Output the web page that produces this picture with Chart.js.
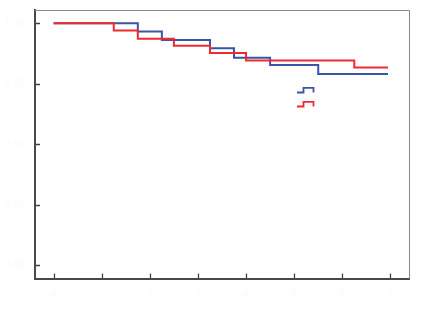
<!DOCTYPE html>
<html>
<head>
<meta charset="utf-8">
<script src="https://cdn.jsdelivr.net/npm/chart.js@4/dist/chart.umd.min.js"></script>
<style>
  html, body { margin: 0; padding: 0; background: #fff; }
  #wrap { width: 423px; height: 317px; }
</style>
</head>
<body>
<div id="wrap"><canvas id="chart"></canvas></div>
<script>
// survival steps (x = time, y = proportion surviving)
const blueTimes = [0, 1.75, 2.25, 3.25, 3.75, 4.5, 5.5, 6.95];
const blueSurv = [1, 0.966, 0.931, 0.897, 0.858, 0.828, 0.79, 0.79];
const redTimes = [0, 1.25, 1.75, 2.5, 3.25, 4.0, 6.25, 6.95];
const redSurv = [1, 0.97, 0.936, 0.907, 0.877, 0.846, 0.817, 0.817];

const xTicks = [0, 1, 2, 3, 4, 5, 6, 7];
const yTicks = [0, 0.25, 0.5, 0.75, 1];

const BLUE = "#3a55a4";
const RED = "#ee2a30";

const toPoints = (xs, ys) => xs.map((x, i) => ({ x: x, y: ys[i] }));

// inward ticks, light frame on top/right, little step-shaped legend
const decor = {
  id: "decor",
  afterDraw(chart) {
    const { ctx, chartArea: a, scales } = chart;
    ctx.save();
    ctx.strokeStyle = "#8a8a8a";
    ctx.lineWidth = 1;
    ctx.beginPath();
    ctx.moveTo(a.left, a.top + 0.5);
    ctx.lineTo(a.right + 0.5, a.top + 0.5);
    ctx.lineTo(a.right + 0.5, a.bottom);
    ctx.stroke();

    ctx.strokeStyle = "#444";
    ctx.lineWidth = 1.3;
    ctx.beginPath();
    xTicks.forEach((t) => {
      const px = Math.round(scales.x.getPixelForValue(t)) + 0.5;
      ctx.moveTo(px, a.bottom);
      ctx.lineTo(px, a.bottom - 5);
    });
    yTicks.forEach((t) => {
      const py = Math.round(scales.y.getPixelForValue(t)) + 0.5;
      ctx.moveTo(a.left, py);
      ctx.lineTo(a.left + 5, py);
    });
    ctx.stroke();

    // legend glyphs
    const lx = a.left + 262, ly = a.top + 82.5;
    [[BLUE, 0], [RED, 14]].forEach(([c, dy]) => {
      ctx.strokeStyle = c;
      ctx.lineWidth = 1.8;
      ctx.beginPath();
      ctx.moveTo(lx, ly + dy);
      ctx.lineTo(lx + 6.5, ly + dy);
      ctx.lineTo(lx + 6.5, ly + dy - 4.7);
      ctx.lineTo(lx + 16.5, ly + dy - 4.7);
      ctx.lineTo(lx + 16.5, ly + dy);
      ctx.stroke();
    });
    ctx.restore();
  }
};

new Chart(document.getElementById("chart"), {
  type: "line",
  data: {
    datasets: [
      {
        label: "red",
        data: toPoints(redTimes, redSurv),
        borderColor: RED,
        borderWidth: 2,
        stepped: true,
        pointRadius: 0,
        fill: false
      },
      {
        label: "blue",
        data: toPoints(blueTimes, blueSurv),
        borderColor: BLUE,
        borderWidth: 2,
        stepped: true,
        pointRadius: 0,
        fill: false
      }
    ]
  },
  options: {
    responsive: true,
    maintainAspectRatio: false,
    animation: false,
    layout: { padding: { top: 10, right: 14, left: 0, bottom: 0 } },
    plugins: {
      legend: { display: false },
      tooltip: { enabled: false }
    },
    scales: {
      x: {
        type: "linear",
        min: -0.387,
        max: 7.387,
        afterBuildTicks: (s) => { s.ticks = xTicks.map((v) => ({ value: v })); },
        afterFit: (s) => { s.height = 38.5; },
        grid: { display: false },
        border: { color: "#4a4a4a", width: 2 },
        ticks: { color: "#fafafa", font: { size: 10 } }
      },
      y: {
        min: -0.055,
        max: 1.055,
        afterBuildTicks: (s) => { s.ticks = yTicks.map((v) => ({ value: v })); },
        afterFit: (s) => { s.width = 35; },
        grid: { display: false },
        border: { color: "#4a4a4a", width: 2 },
        ticks: {
          color: "#fafafa",
          font: { size: 10 },
          callback: (v) => v.toFixed(2)
        }
      }
    }
  },
  plugins: [decor]
});
</script>
</body>
</html>
